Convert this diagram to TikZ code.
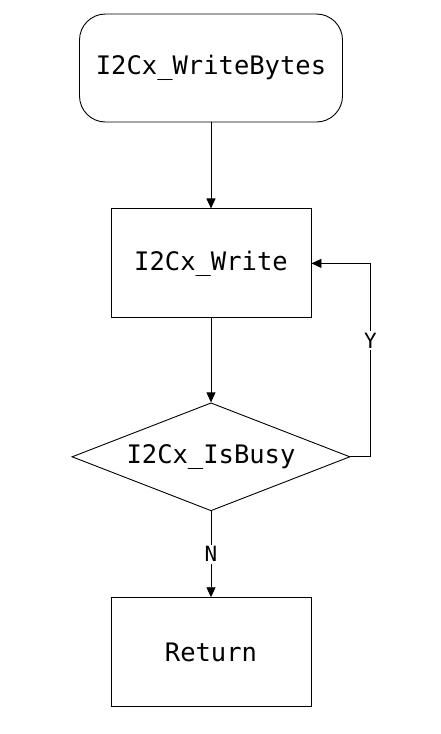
\documentclass[tikz,border=0pt]{standalone}
\usepackage{fontspec}
\setmonofont{DejaVu Sans Mono}
\usepackage{tikz}
\usetikzlibrary{positioning,arrows.meta,shapes.geometric}
\tikzset{
startbox/.style={
draw,
rounded corners=26pt,
line width=0.9pt,
minimum width=263pt,
minimum height=108pt,
align=center,
font=\ttfamily\fontsize{25.5}{30}\selectfont
},
procbox/.style={
draw,
line width=0.9pt,
minimum width=200pt,
minimum height=109pt,
align=center,
font=\ttfamily\fontsize{25.5}{30}\selectfont
},
decision/.style={
draw,
diamond,
aspect=2.57,
inner sep=0pt,
line width=0.9pt,
minimum width=278pt,
minimum height=108pt,
align=center,
font=\ttfamily\fontsize{25.5}{30}\selectfont
},
arrow/.style={
-{Triangle[length=10pt,width=9pt]},
line width=0.9pt
},
answer/.style={
fill=white,
inner sep=2pt,
font=\ttfamily\fontsize{21}{25}\selectfont
}
}
\begin{document}
\begin{tikzpicture}[node distance=86pt]
\useasboundingbox (0,0) rectangle (440pt,-734pt);
\node[startbox] (writebytes) at (211pt,-68pt) {I2Cx\_WriteBytes};
\node[procbox,below=of writebytes] (write) {I2Cx\_Write};
\node[decision,below=84pt of write] (isbusy) {I2Cx\_IsBusy};
\node[procbox,below=of isbusy] (return) {Return};

\foreach \x/\y in {writebytes/write,write/isbusy}
\draw[arrow](\x)--(\y);
\draw[arrow](isbusy)--node[answer]{N}(return);
\draw[arrow](isbusy.east)--++(20pt,0)|-node[answer,pos=0.3]{Y}(write.east);
\end{tikzpicture}
\end{document}
